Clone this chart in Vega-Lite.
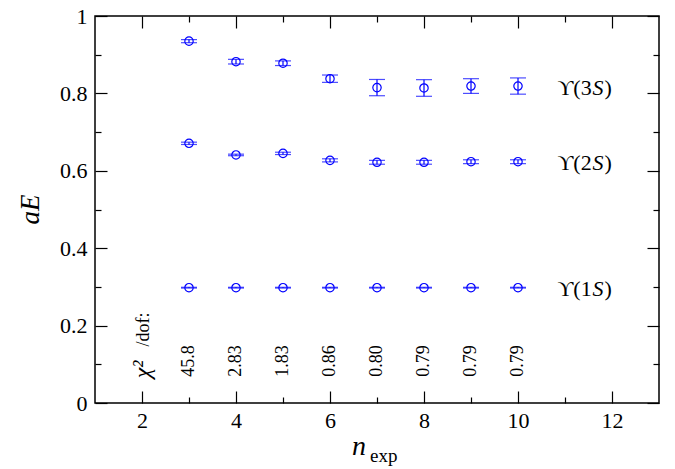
{
  "$schema": "https://vega.github.io/schema/vega-lite/v6.json",
  "width": 564,
  "height": 387,
  "autosize": {"type": "none"},
  "padding": {"left": 95, "top": 16, "right": 16, "bottom": 66},
  "config": {
    "view": {"stroke": "black", "strokeWidth": 1.5},
    "font": "Liberation Serif",
    "axis": {"grid": false, "domain": false, "tickColor": "black", "tickWidth": 1.2, "labelFont": "Liberation Serif", "labelFontSize": 22, "labelColor": "black", "format": "~g"}
  },
  "datasets": {
    "pts": [
      {"n": 3, "state": "1S", "E": 0.298, "lo": 0.297, "hi": 0.299},
      {"n": 4, "state": "1S", "E": 0.298, "lo": 0.297, "hi": 0.299},
      {"n": 5, "state": "1S", "E": 0.298, "lo": 0.297, "hi": 0.299},
      {"n": 6, "state": "1S", "E": 0.298, "lo": 0.297, "hi": 0.299},
      {"n": 7, "state": "1S", "E": 0.298, "lo": 0.297, "hi": 0.299},
      {"n": 8, "state": "1S", "E": 0.298, "lo": 0.297, "hi": 0.299},
      {"n": 9, "state": "1S", "E": 0.298, "lo": 0.297, "hi": 0.299},
      {"n": 10, "state": "1S", "E": 0.298, "lo": 0.297, "hi": 0.299},
      {"n": 3, "state": "2S", "E": 0.671, "lo": 0.668, "hi": 0.674},
      {"n": 4, "state": "2S", "E": 0.641, "lo": 0.639, "hi": 0.643},
      {"n": 5, "state": "2S", "E": 0.645, "lo": 0.642, "hi": 0.648},
      {"n": 6, "state": "2S", "E": 0.627, "lo": 0.623, "hi": 0.631},
      {"n": 7, "state": "2S", "E": 0.622, "lo": 0.617, "hi": 0.627},
      {"n": 8, "state": "2S", "E": 0.622, "lo": 0.617, "hi": 0.627},
      {"n": 9, "state": "2S", "E": 0.6235, "lo": 0.6185, "hi": 0.6285},
      {"n": 10, "state": "2S", "E": 0.6235, "lo": 0.6185, "hi": 0.6285},
      {"n": 3, "state": "3S", "E": 0.935, "lo": 0.931, "hi": 0.939},
      {"n": 4, "state": "3S", "E": 0.882, "lo": 0.876, "hi": 0.888},
      {"n": 5, "state": "3S", "E": 0.878, "lo": 0.872, "hi": 0.884},
      {"n": 6, "state": "3S", "E": 0.838, "lo": 0.8285, "hi": 0.8475},
      {"n": 7, "state": "3S", "E": 0.815, "lo": 0.794, "hi": 0.836},
      {"n": 8, "state": "3S", "E": 0.814, "lo": 0.7925, "hi": 0.8355},
      {"n": 9, "state": "3S", "E": 0.819, "lo": 0.8, "hi": 0.838},
      {"n": 10, "state": "3S", "E": 0.819, "lo": 0.798, "hi": 0.84}
    ],
    "labels": [
      {"state": "3S", "pre": "ϒ(3", "it": "S", "post": ")", "E": 0.814},
      {"state": "2S", "pre": "ϒ(2", "it": "S", "post": ")", "E": 0.619},
      {"state": "1S", "pre": "ϒ(1", "it": "S", "post": ")", "E": 0.294}
    ],
    "chi": [
      {"n": 3, "chi2": "45.8"},
      {"n": 4, "chi2": "2.83"},
      {"n": 5, "chi2": "1.83"},
      {"n": 6, "chi2": "0.86"},
      {"n": 7, "chi2": "0.80"},
      {"n": 8, "chi2": "0.79"},
      {"n": 9, "chi2": "0.79"},
      {"n": 10, "chi2": "0.79"}
    ],
    "one": [{"k": 1}]
  },
  "layer": [
    {
      "data": {"name": "pts"},
      "mark": {"type": "rule", "color": "#0000ff", "strokeWidth": 1.2},
      "encoding": {
        "x": {"field": "n", "type": "quantitative", "scale": {"domain": [1, 13], "nice": false, "zero": false},
              "axis": {"orient": "bottom", "values": [3, 5, 7, 9, 11], "tickSize": -6, "labels": false, "title": null}},
        "y": {"field": "lo", "type": "quantitative", "scale": {"domain": [0, 1], "nice": false, "zero": false},
              "axis": {"orient": "left", "values": [0.1, 0.3, 0.5, 0.7, 0.9], "tickSize": -6, "labels": false, "title": null}},
        "y2": {"field": "hi"}
      }
    },
    {
      "data": {"name": "pts"},
      "mark": {"type": "tick", "orient": "horizontal", "size": 16, "thickness": 1.2, "color": "#0000ff"},
      "encoding": {
        "x": {"field": "n", "type": "quantitative",
              "axis": {"orient": "top", "values": [2, 4, 6, 8, 10, 12], "tickSize": -12, "labels": false, "title": null}},
        "y": {"field": "lo", "type": "quantitative",
              "axis": {"orient": "right", "values": [0, 0.2, 0.4, 0.6, 0.8, 1], "tickSize": -12, "labels": false, "title": null}}
      }
    },
    {
      "data": {"name": "pts"},
      "mark": {"type": "tick", "orient": "horizontal", "size": 16, "thickness": 1.2, "color": "#0000ff"},
      "encoding": {
        "x": {"field": "n", "type": "quantitative",
              "axis": {"orient": "top", "values": [3, 5, 7, 9, 11], "tickSize": -6, "labels": false, "title": null}},
        "y": {"field": "hi", "type": "quantitative",
              "axis": {"orient": "right", "values": [0.1, 0.3, 0.5, 0.7, 0.9], "tickSize": -6, "labels": false, "title": null}}
      }
    },
    {
      "data": {"name": "pts"},
      "mark": {"type": "point", "shape": "circle", "filled": false, "color": "#0000ff", "size": 70, "strokeWidth": 1.2, "opacity": 1},
      "encoding": {
        "x": {"field": "n", "type": "quantitative",
              "axis": {"orient": "bottom", "values": [2, 4, 6, 8, 10, 12], "tickSize": -12, "labelPadding": 19, "title": null}},
        "y": {"field": "E", "type": "quantitative",
              "axis": {"orient": "left", "values": [0, 0.2, 0.4, 0.6, 0.8, 1], "tickSize": -12, "labelPadding": 20,
                       "title": "aE", "titleFont": "Liberation Serif", "titleFontStyle": "italic", "titleFontWeight": "normal",
                       "titleFontSize": 27, "titleColor": "black", "titleX": -57, "titleY": 193, "titleBaseline": "alphabetic", "titleAlign": "center", "titleAngle": -90}}
      }
    },
    {
      "data": {"name": "labels"},
      "mark": {"type": "text", "align": "left", "baseline": "middle", "fontSize": 22, "font": "Liberation Serif", "color": "black"},
      "encoding": {
        "x": {"datum": 10.84, "type": "quantitative", "axis": null},
        "y": {"field": "E", "type": "quantitative", "axis": null},
        "text": {"field": "pre"}
      }
    },
    {
      "data": {"name": "labels"},
      "mark": {"type": "text", "align": "left", "baseline": "middle", "fontSize": 22, "font": "Liberation Serif", "fontStyle": "italic", "color": "black", "dx": 35},
      "encoding": {
        "x": {"datum": 10.84, "type": "quantitative", "axis": null},
        "y": {"field": "E", "type": "quantitative", "axis": null},
        "text": {"field": "it"}
      }
    },
    {
      "data": {"name": "labels"},
      "mark": {"type": "text", "align": "left", "baseline": "middle", "fontSize": 22, "font": "Liberation Serif", "color": "black", "dx": 47},
      "encoding": {
        "x": {"datum": 10.84, "type": "quantitative", "axis": null},
        "y": {"field": "E", "type": "quantitative", "axis": null},
        "text": {"field": "post"}
      }
    },
    {
      "data": {"name": "chi"},
      "mark": {"type": "text", "align": "left", "baseline": "middle", "angle": 270, "fontSize": 18, "font": "Liberation Serif", "color": "black"},
      "encoding": {
        "x": {"field": "n", "type": "quantitative", "axis": null},
        "y": {"datum": 0.068, "type": "quantitative", "axis": null},
        "text": {"field": "chi2"}
      }
    },
    {
      "data": {"name": "one"},
      "mark": {"type": "text", "align": "left", "baseline": "middle", "angle": 270, "fontSize": 24, "font": "Liberation Serif", "fontStyle": "italic", "color": "black"},
      "encoding": {
        "x": {"datum": 2.03, "type": "quantitative", "axis": null},
        "y": {"datum": 0.064, "type": "quantitative", "axis": null},
        "text": {"value": "χ²"}
      }
    },
    {
      "data": {"name": "one"},
      "mark": {"type": "text", "align": "left", "baseline": "middle", "angle": 270, "fontSize": 18, "font": "Liberation Serif", "color": "black"},
      "encoding": {
        "x": {"datum": 2.05, "type": "quantitative", "axis": null},
        "y": {"datum": 0.146, "type": "quantitative", "axis": null},
        "text": {"value": "/dof:"}
      }
    },
    {
      "data": {"name": "one"},
      "mark": {"type": "text", "align": "left", "baseline": "alphabetic", "fontSize": 28, "font": "Liberation Serif", "fontStyle": "italic", "color": "black"},
      "encoding": {
        "x": {"datum": 6.468, "type": "quantitative", "axis": null},
        "y": {"datum": -0.1344, "type": "quantitative", "axis": null},
        "text": {"value": "n"}
      }
    },
    {
      "data": {"name": "one"},
      "mark": {"type": "text", "align": "left", "baseline": "alphabetic", "fontSize": 19, "font": "Liberation Serif", "color": "black"},
      "encoding": {
        "x": {"datum": 6.851, "type": "quantitative", "axis": null},
        "y": {"datum": -0.1517, "type": "quantitative", "axis": null},
        "text": {"value": "exp"}
      }
    }
  ],
  "resolve": {"axis": {"x": "independent", "y": "independent"}}
}
